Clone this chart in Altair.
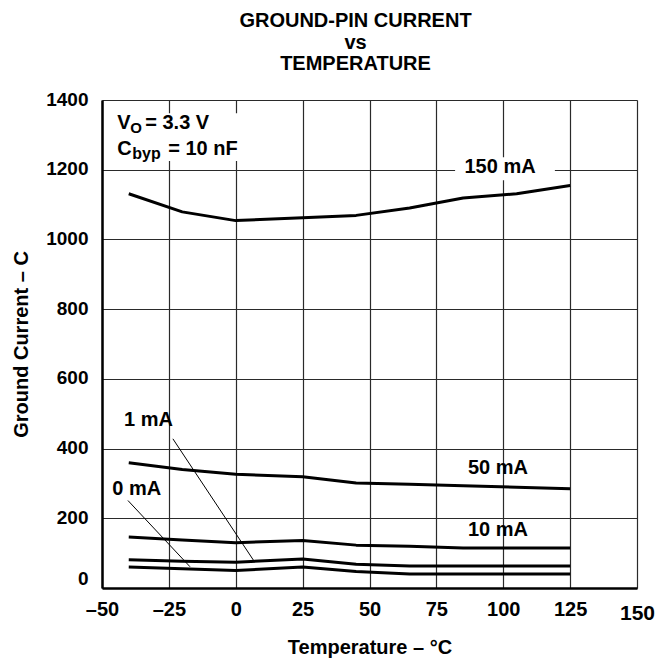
import altair as alt
import pandas as pd

# ---- data ----
temps = [-40, -20, 0, 25, 45, 65, 85, 105, 125]
i_150 = [1131, 1079, 1054, 1062, 1069, 1090, 1119, 1131, 1155]
i_50 = [359, 340, 326, 319, 301, 298, 293, 289, 285]
i_10 = [146, 138, 130, 136, 123, 120, 115, 115, 115]
i_1 = [81, 77, 74, 83, 68, 63, 63, 63, 63]
i_0 = [60, 55, 50, 60, 47, 40, 40, 40, 40]

x_ticks = [-50, -25, 0, 25, 50, 75, 100, 125, 150]
y_ticks = [0, 200, 400, 600, 800, 1000, 1200, 1400]

series = {"150 mA": i_150, "50 mA": i_50, "10 mA": i_10, "1 mA": i_1, "0 mA": i_0}

# curve labels (data coordinates)
lab_text = ["150 mA", "50 mA", "10 mA", "1 mA", "0 mA"]
lab_x = [98.8, 98, 98, -32.6, -37]
lab_y = [1208, 344, 166, 482, 284]

# leader lines for 1 mA and 0 mA
lead_x = [-23.5, -40.3]
lead_y = [428, 251]
lead_x2 = [6.6, -17.1]
lead_y2 = [80, 61]

# white masks behind annotations
mask_x = [82, -49.2]
mask_x2 = [119.3, 3.5]
mask_y = [1170, 1225]
mask_y2 = [1236, 1362]

FONT = "Liberation Sans"

rows = []
for name, vals in series.items():
    for t, v in zip(temps, vals):
        rows.append({"series": name, "T": t, "I": v})
df = pd.DataFrame(rows)

xs = alt.Scale(domain=[-50, 150], nice=False, zero=False)
ys = alt.Scale(domain=[0, 1400], nice=False, zero=False)

base_x_axis = alt.Axis(
    values=x_ticks, grid=True, gridColor="#2a2a2a", gridWidth=1.2, ticks=False,
    domain=True, domainColor="black", domainWidth=2.5, labelFlush=False,
    labelExpr="datum.value < 0 ? '\u2013' + abs(datum.value) : '' + datum.value",
    labelFont=FONT, labelFontWeight="bold", labelColor="black",
    labelFontSize={"condition": {"test": "datum.value == 150", "value": 21}, "value": 20},
    labelPadding={"condition": {"test": "datum.value == 150", "value": 14}, "value": 11},
    title="Temperature \u2013 \u00b0C", titleFont=FONT,
    titleFontSize=20, titleFontWeight="bold", titleColor="black", titlePadding=14,
)
base_y_axis = alt.Axis(
    values=y_ticks, grid=True, gridColor="#2a2a2a", gridWidth=1.2, ticks=False,
    domain=True, domainColor="black", domainWidth=2.5, labelFlush=False, format="d",
    labelFont=FONT, labelFontSize=19, labelFontWeight="bold", labelColor="black",
    labelOffset={"condition": {"test": "datum.value == 0", "value": -10}, "value": -1},
    labelPadding=14, title="Ground Current \u2013 C", titleFont=FONT,
    titleFontSize=20, titleFontWeight="bold", titleColor="black", titlePadding=14,
)

lines = alt.Chart(df).mark_line(color="black", strokeWidth=3, strokeJoin="round").encode(
    x=alt.X("T:Q", scale=xs, axis=base_x_axis),
    y=alt.Y("I:Q", scale=ys, axis=base_y_axis),
    detail="series:N",
)

mask_df = pd.DataFrame({"x": mask_x, "x2": mask_x2, "y": mask_y, "y2": mask_y2})
masks = alt.Chart(mask_df).mark_rect(color="white").encode(
    x=alt.X("x:Q", scale=xs), x2="x2:Q", y=alt.Y("y:Q", scale=ys), y2="y2:Q"
)

lab_df = pd.DataFrame({"t": lab_text, "x": lab_x, "y": lab_y})
labels = alt.Chart(lab_df).mark_text(
    font=FONT, fontSize=20, fontWeight="bold", color="black", align="center", baseline="middle"
).encode(x=alt.X("x:Q", scale=xs), y=alt.Y("y:Q", scale=ys), text="t:N")

lead_df = pd.DataFrame({"x": lead_x, "y": lead_y, "x2": lead_x2, "y2": lead_y2})
leaders = alt.Chart(lead_df).mark_rule(color="black", strokeWidth=1).encode(
    x=alt.X("x:Q", scale=xs), y=alt.Y("y:Q", scale=ys), x2="x2:Q", y2="y2:Q"
)

# condition annotation: V_O = 3.3 V ; C_byp = 10 nF
ann_parts = [
    # text, x, y, dx, dy, size
    ("V", -44.3, 1317, 0, 0, 20),
    ("O", -44.3, 1317, 13, 4, 15),
    ("= 3.3 V", -44.3, 1317, 28, 0, 20),
    ("C", -44.3, 1242, 0, 0, 20),
    ("byp", -44.3, 1242, 15, 4, 16),
    ("= 10 nF", -44.3, 1242, 51, 0, 20),
]
ann_layers = []
for txt, ax, ay, dx, dy, sz in ann_parts:
    adf = pd.DataFrame({"t": [txt], "x": [ax], "y": [ay]})
    ann_layers.append(
        alt.Chart(adf).mark_text(
            font=FONT, fontSize=sz, fontWeight="bold", color="black",
            align="left", baseline="alphabetic", dx=dx, dy=dy,
        ).encode(x=alt.X("x:Q", scale=xs), y=alt.Y("y:Q", scale=ys), text="t:N")
    )

chart = alt.layer(lines, masks, labels, leaders, *ann_layers).properties(
    width=535, height=488,
    title=alt.TitleParams(
        ["GROUND-PIN CURRENT", "vs", "TEMPERATURE"], font=FONT, fontSize=20,
        fontWeight="bold", color="black", lineHeight=21.5, anchor="middle", dx=-14, offset=16,
    ),
    autosize=alt.AutoSizeParams(type="none"),
    padding={"left": 94, "top": 92, "right": 19, "bottom": 74},
).configure_view(stroke="black", strokeWidth=2).configure(background="white")

chart.save("out.html", embed_options={"renderer": "svg", "actions": False})
